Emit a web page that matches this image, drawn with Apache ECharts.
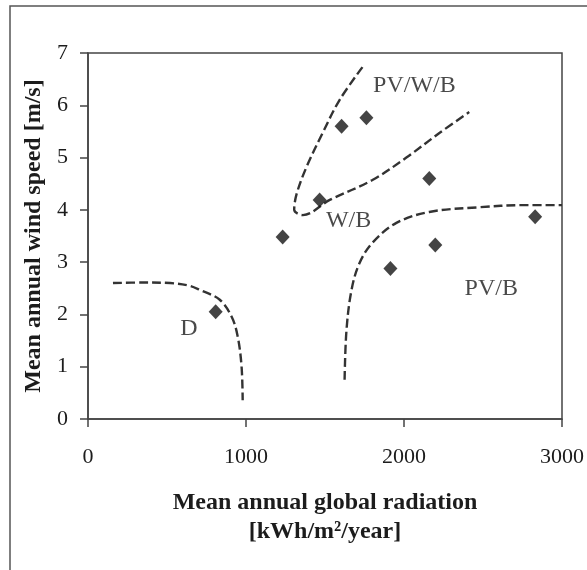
<!DOCTYPE html>
<html>
<head>
<meta charset="utf-8">
<script src="https://cdn.jsdelivr.net/npm/echarts@6/dist/echarts.min.js"></script>
<style>
  html, body { margin: 0; padding: 0; background: #fff; }
  #chart { width: 587px; height: 570px; }
</style>
</head>
<body>
<div id="chart"></div>
<script>
// sites: [global radiation kWh/m2/year, wind speed m/s]
const sites = [
    [808, 2.05],
    [1232, 3.48],
    [1466, 4.19],
    [1605, 5.6],
    [1762, 5.76],
    [2160, 4.6],
    [2198, 3.33],
    [1914, 2.88],
    [2830, 3.87]
];

// dashed boundaries between the regions
const lineD = [[158, 2.6], [350, 2.61], [520, 2.6], [640, 2.55], [707, 2.47], [834, 2.28], [910, 1.95], [948, 1.57], [972, 1.0], [979, 0.36]];
const linePVWB = [[1737, 6.73], [1592, 6.1], [1485, 5.47], [1383, 4.82], [1320, 4.3], [1305, 4.0], [1360, 3.9], [1530, 4.19], [1800, 4.57], [2015, 5.0], [2224, 5.47], [2413, 5.87]];
const linePVB = [[1624, 0.75], [1636, 1.7], [1668, 2.47], [1718, 2.98], [1800, 3.37], [1952, 3.75], [2160, 3.96], [2476, 4.05], [2748, 4.09], [3000, 4.09]];

// region names and where they sit
const regionNames = ['PV/W/B', 'W/B', 'PV/B', 'D'];
const regionPos = [[2066, 6.37], [1649, 3.8], [2552, 2.5], [638, 1.72]];

const xTicks = [0, 1000, 2000, 3000];
const yTicks = [0, 1, 2, 3, 4, 5, 6, 7];

const FONT = '"Liberation Serif", "DejaVu Serif", serif';
const INK = '#1c1c1c';

function dashed(data) {
    return {
        type: 'line',
        data: data,
        smooth: 0.35,
        showSymbol: false,
        silent: true,
        lineStyle: { color: '#333', width: 2.4, type: [9, 4] },
        z: 2
    };
}

let chart = echarts.init(document.getElementById('chart'));
chart.setOption({
    animation: false,
    backgroundColor: '#fff',
    textStyle: { fontFamily: FONT },
    grid: {
        left: 88, top: 53, right: 24, bottom: 151,
        show: true, borderColor: '#444', borderWidth: 1.5
    },
    graphic: [{
        type: 'rect',
        shape: { x: 10, y: 6, width: 600, height: 600 },
        style: { fill: 'none', stroke: '#555', lineWidth: 1.5 },
        silent: true
    }],
    xAxis: {
        type: 'value',
        min: xTicks[0], max: xTicks[xTicks.length - 1], interval: 1000,
        splitLine: { show: false },
        axisLine: { lineStyle: { color: '#444', width: 1.5 } },
        axisTick: { show: true, length: 8, lineStyle: { color: '#444', width: 1.5 } },
        axisLabel: { color: INK, fontFamily: FONT, fontSize: 22, margin: 27, formatter: v => String(v) },
        name: 'Mean annual global radiation\n[kWh/m²/year]',
        nameLocation: 'middle',
        nameGap: 69,
        nameTextStyle: { color: INK, fontFamily: FONT, fontSize: 24, fontWeight: 'bold', lineHeight: 29 }
    },
    yAxis: {
        type: 'value',
        min: yTicks[0], max: yTicks[yTicks.length - 1], interval: 1,
        splitLine: { show: false },
        axisLine: { lineStyle: { color: '#444', width: 1.5 } },
        axisTick: { show: true, length: 8, lineStyle: { color: '#444', width: 1.5 } },
        axisLabel: { color: INK, fontFamily: FONT, fontSize: 22, margin: 20 },
        name: 'Mean annual wind speed [m/s]',
        nameLocation: 'middle',
        nameGap: 42,
        nameTextStyle: { color: INK, fontFamily: FONT, fontSize: 24, fontWeight: 'bold' }
    },
    series: [
        dashed(lineD),
        dashed(linePVWB),
        dashed(linePVB),
        {
            type: 'scatter',
            data: sites,
            symbol: 'diamond',
            symbolSize: [14, 15],
            itemStyle: { color: '#151515' },
            z: 3
        },
        {
            type: 'scatter',
            data: regionPos.map((p, i) => ({ value: p, name: regionNames[i] })),
            symbolSize: 0,
            silent: true,
            label: {
                show: true,
                position: 'inside',
                formatter: '{b}',
                color: INK,
                fontFamily: FONT,
                fontSize: 24
            },
            z: 4
        }
    ]
});
</script>
</body>
</html>
